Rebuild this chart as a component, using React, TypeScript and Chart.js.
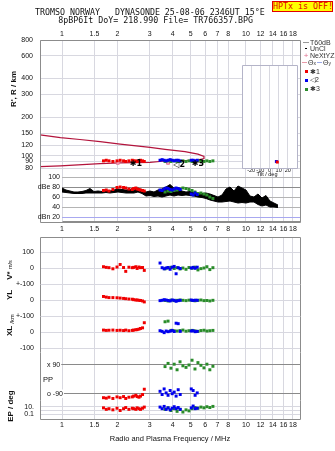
import React, { useEffect, useRef } from 'react';
import { Chart, registerables } from 'chart.js';
Chart.register(...registerables);

// ---------------- data ----------------
const freqTicks = [1, 1.5, 2, 3, 4, 5, 6, 7, 8, 10, 12, 14, 16, 18];
const rangeTicks = [80, 90, 100, 120, 150, 200, 300, 400, 600, 800];
const tiltTicks = [-20, -10, 0, 10, 20];
const dbTicks = [100, 80, 60, 40, 20];
const vTicks = [100, 0];
const ylTicks = [100, 0];
const xlTicks = [100, 0, -100];
const ppTicks = [90, -90];
const epTicks = [10, 1, 0.1];

const mode1Freq = [1.68, 1.74, 1.8, 1.89, 1.99, 2.07, 2.16, 2.22, 2.31, 2.41, 2.45, 2.52, 2.56, 2.62, 2.67, 2.74, 2.8];
const mode1Range = [91, 92, 91, 90, 91, 92, 91, 90, 91, 92, 91, 91, 90, 91, 92, 91, 90];
const mode1Db = [73, 74, 72, 75, 79, 80, 79, 78, 76, 75, 77, 78, 76, 75, 74, 73, 72];
const mode1Vstar = [8, 4, 2, -5, 6, 22, 3, -21, 5, 2, 4, 8, -3, 6, 2, 3, -15];
const mode1YL = [22, 18, 15, 15, 14, 12, 10, 8, 6, 5, 2, 0, 0, -2, -3, -6, -12];
const mode1XL = [12, 10, 11, 12, 10, 11, 9, 12, 8, 10, 12, 14, 15, 18, 22, 26, 58];
const mode1PP = [-115, -118, -112, -120, -110, -115, -108, -120, -112, -110, -105, -100, -108, -112, -105, -95, -62];
const mode1EP = [5, 2, 3, 1.5, 4, 1, 3, 6, 2, 4, 3, 2, 5, 3, 2, 4, 8];

const mode2Freq = [3.41, 3.5, 3.59, 3.68, 3.77, 3.87, 3.97, 4.07, 4.17, 4.28, 4.39, 5.04, 5.16, 5.29, 5.43];
const mode2Range = [92, 93, 92, 91, 92, 93, 92, 91, 92, 92, 91, 92, 92, 91, 92];
const mode2Db = [74, 73, 76, 78, 77, 75, 74, 76, 78, 77, 75, 66, 64, 68, 65];
const mode2Vstar = [31, 2, -5, 0, 3, -8, 5, 10, -36, 2, -3, 0, 4, -2, 5];
const mode2YL = [-4, -2, 2, 0, -3, -6, 0, -2, -8, -4, -2, 0, -3, -1, -2];
const mode2XL = [8, 4, -4, 6, 2, 5, 10, 3, 55, 52, 4, 6, 8, 2, 4];
const mode2PP = [-75, -95, -60, -85, -100, -70, -90, -80, -105, -65, -95, -60, -70, -100, -85];
const mode2EP = [8, 3, 12, 2, 5, 1.5, 4, 10, 3, 6, 2, 5, 15, 3, 4];

const mode3Freq = [3.63, 3.77, 3.91, 4.07, 4.22, 4.38, 4.54, 4.72, 4.9, 5.09, 5.28, 5.48, 5.69, 5.91, 6.13, 6.36, 6.61];
const mode3Range = [90, 91, 90, 91, 90, 90, 91, 90, 91, 90, 90, 91, 90, 90, 91, 90, 91];
const mode3Db = [70, 72, 71, 73, 74, 76, 78, 77, 75, 73, 70, 67, 68, 66, 64, 60, 57];
const mode3Vstar = [-5, 0, 4, -3, 2, -6, 0, -8, 3, -2, 5, -12, -4, 0, 8, -10, 2];
const mode3YL = [-3, -6, -1, -4, -2, 0, -2, -4, -1, -3, -5, -2, 0, -4, -3, -6, -2];
const mode3XL = [64, 68, 10, 8, 6, 9, 12, 5, 8, 10, 7, 4, 9, 11, 6, 8, 10];
const mode3PP = [80, 100, 70, 95, 60, 110, 85, 75, 90, 120, 65, 105, 88, 72, 95, 60, 82];
const mode3EP = [2, 5, 1, 3, 0.6, 2, 0.4, 1.5, 0.8, 3, 6, 4, 8, 5, 10, 6, 12];

const modelLowerFreq = [0.76, 0.98, 1.61, 2.07, 3.01, 3.63, 4.66, 5.48, 5.91];
const modelLowerRange = [81.9, 83.2, 86.7, 87.9, 88.6, 90.8, 91.6, 92.3, 95];
const modelUpperFreq = [0.76, 0.98, 1.25, 1.61, 2.07, 3.01, 3.63, 4.66, 5.48, 5.91];
const modelUpperRange = [145, 138, 133.6, 128.8, 123, 116, 112, 107.5, 102.6, 98.6];

const nextyzFreq = [2.01, 3.77, 5.6];
const nextyzRange = [88, 88, 91];

const tilt1 = [8.5];
const tilt1Range = [89];
const tilt2 = [7.5];
const tilt2Range = [90];

const dbFreq = [1.0, 1.051, 1.105, 1.162, 1.221, 1.284, 1.35, 1.419, 1.492, 1.569, 1.65, 1.734, 1.823, 1.917, 2.015, 2.119, 2.228, 2.342, 2.462, 2.588, 2.721, 2.861, 3.008, 3.162, 3.325, 3.495, 3.675, 3.864, 4.062, 4.271, 4.49, 4.72, 4.963, 5.218, 5.485, 5.767, 6.063, 6.374, 6.702, 7.045, 7.407, 7.787, 8.187, 8.607, 9.049, 9.513, 10.0, 10.51, 11.05, 11.62, 12.22, 12.84, 13.5, 14.19, 14.92];
const dbHigh = [78, 74, 72, 70, 70, 71, 73, 77, 71, 72, 71, 73, 72, 74, 76, 75, 74, 75, 73, 78, 74, 70, 72, 70, 74, 76, 80, 85, 78, 76, 72, 70, 71, 69, 68, 67, 68, 66, 63, 60, 64, 76, 80, 72, 82, 78, 74, 62, 60, 66, 58, 63, 52, 48, 44];
const dbLow = [70, 69, 68, 67, 67, 67, 68, 68, 68, 68, 68, 69, 68, 69, 70, 69, 68, 68, 68, 70, 67, 62, 63, 61, 62, 60, 62, 64, 62, 64, 63, 64, 63, 62, 60, 59, 57, 54, 52, 50, 50, 51, 52, 50, 48, 49, 48, 50, 50, 45, 42, 44, 40, 40, 39];

const modeNotes = [
  { text: '✱1', f: 2.52, r: 86 },
  { text: '◁2', f: 4.33, r: 84.5 },
  { text: '✱3', f: 5.48, r: 86 },
];

// ---------------- helpers ----------------
const W = 335;
const H = 451;
const X_MIN = 0.759;
const X_MAX = 19.66;
const FONT = 'Liberation Sans';
const GRID = '#d8d8e0';
const FRAME = '#8c8c8c';
const RED = '#f00000';
const BLUE = '#0000ee';
const GREEN = '#2a8c2a';

const fix = (size: number) => (s: any) => {
  if (s.isHorizontal()) s.height = size;
  else s.width = size;
  s.paddingLeft = 0;
  s.paddingRight = 0;
  s.paddingTop = 0;
  s.paddingBottom = 0;
};
const setTicks = (vals: number[]) => (s: any) => {
  s.ticks = vals.map((value) => ({ value }));
};
const pts = (xs: number[], ys: number[]) => xs.map((x, i) => ({ x, y: ys[i] }));

function modeDs(xs: number[], ys: number[], color: string, r = 2.1) {
  return {
    data: pts(xs, ys),
    showLine: false,
    pointStyle: 'rect',
    pointRadius: r,
    pointBorderWidth: 0,
    pointBackgroundColor: color,
    pointBorderColor: color,
    backgroundColor: color,
    borderColor: color,
  };
}

function area(l: number, t: number, r: number, b: number, yW: number, xH: number, xPos: string) {
  return {
    left: l - yW,
    top: t - (xPos === 'top' ? xH : 0),
    right: W - r,
    bottom: H - b - (xPos === 'bottom' ? xH : 0),
  };
}

function freqAxis(o: { min?: number; labels?: boolean; position?: string; size?: number; grid?: boolean; pad?: number }) {
  return {
    type: 'logarithmic',
    position: o.position || 'bottom',
    min: o.min ?? X_MIN,
    max: X_MAX,
    afterBuildTicks: setTicks(freqTicks),
    afterFit: fix(o.size ?? 0),
    grid: { display: o.grid ?? true, color: GRID, drawTicks: false },
    border: { display: false },
    ticks: {
      display: !!o.labels,
      autoSkip: false,
      maxRotation: 0,
      minRotation: 0,
      padding: o.pad ?? 2,
      color: '#111',
      font: { family: FONT, size: 7 },
      callback: (v: any) => String(v),
    },
  };
}

function valueAxis(o: {
  type?: string; min: number; max: number; ticks: number[]; label?: (v: number) => string;
  width?: number; pad?: number; gridColor?: any; mirror?: boolean;
}) {
  return {
    type: o.type || 'linear',
    position: 'left',
    min: o.min,
    max: o.max,
    afterBuildTicks: setTicks(o.ticks),
    afterFit: fix(o.width ?? 40),
    grid: { color: o.gridColor || GRID, drawTicks: false },
    border: { display: false },
    ticks: {
      autoSkip: false,
      padding: o.pad ?? 6,
      color: '#111',
      mirror: !!o.mirror,
      showLabelBackdrop: !!o.mirror,
      backdropColor: '#ffffff',
      backdropPadding: { left: 6, right: 1, top: 0, bottom: 0 },
      font: { family: FONT, size: 7 },
      callback: (v: any) => (o.label ? o.label(Number(v)) : String(v)),
    },
  };
}

const framePlugin = {
  id: 'frame',
  beforeDraw(chart: any, _a: any, opts: any) {
    if (!opts || !opts.fill) return;
    const { ctx, chartArea: a } = chart;
    ctx.save();
    ctx.fillStyle = opts.fill;
    ctx.fillRect(a.left, a.top, a.right - a.left, a.bottom - a.top);
    ctx.restore();
  },
  afterDraw(chart: any, _a: any, opts: any) {
    if (!opts || !opts.sides) return;
    const { ctx, chartArea: a } = chart;
    const l = Math.round(a.left) + 0.5;
    const r = Math.round(a.right) + 0.5;
    const t = Math.round(a.top) + 0.5;
    const b = Math.round(a.bottom) + 0.5;
    ctx.save();
    ctx.strokeStyle = opts.color || FRAME;
    ctx.lineWidth = 1;
    ctx.beginPath();
    if (opts.sides.includes('t')) { ctx.moveTo(l, t); ctx.lineTo(r, t); }
    if (opts.sides.includes('b')) { ctx.moveTo(l, b); ctx.lineTo(r, b); }
    if (opts.sides.includes('l')) { ctx.moveTo(l, t); ctx.lineTo(l, b); }
    if (opts.sides.includes('r')) { ctx.moveTo(r, t); ctx.lineTo(r, b); }
    ctx.stroke();
    ctx.restore();
  },
};

const notesPlugin = {
  id: 'notes',
  afterDatasetsDraw(chart: any, _a: any, opts: any) {
    if (!opts || !opts.items) return;
    const { ctx, scales } = chart;
    ctx.save();
    ctx.fillStyle = '#000';
    ctx.font = 'bold 8px "DejaVu Sans"';
    ctx.textAlign = 'center';
    ctx.textBaseline = 'middle';
    for (const n of opts.items) {
      ctx.fillText(n.text, scales.x.getPixelForValue(n.f), scales.y.getPixelForValue(n.r));
    }
    ctx.restore();
  },
};

function makeConfig(datasets: any[], padding: any, scales: any, plugins: any = {}) {
  return {
    type: 'scatter',
    data: { datasets },
    options: {
      responsive: false,
      maintainAspectRatio: false,
      animation: false,
      devicePixelRatio: 1,
      events: [],
      layout: { padding },
      plugins: { legend: { display: false }, tooltip: { enabled: false }, ...plugins },
      scales,
    },
    plugins: [framePlugin, notesPlugin],
  };
}

// ---------------- chart configs ----------------
const modelPath = [...pts(modelLowerFreq, modelLowerRange), ...pts(modelUpperFreq, modelUpperRange).reverse()];

const rangeChart = () =>
  makeConfig(
    [
      modeDs(mode1Freq, mode1Range, RED),
      modeDs(mode2Freq, mode2Range, BLUE),
      modeDs(mode3Freq, mode3Range, GREEN),
      { data: pts(nextyzFreq, nextyzRange), showLine: false, pointStyle: 'rect', pointRadius: 2.1, pointBorderWidth: 1, pointBorderColor: '#e07090', pointBackgroundColor: '#f4b0c8' },
      { data: modelPath, showLine: true, borderColor: '#b3143c', borderWidth: 1.2, pointRadius: 0, tension: 0 },
    ],
    area(40, 40, 300, 222, 40, 12, 'top'),
    {
      x: freqAxis({ labels: true, position: 'top', size: 12, pad: 2 }),
      y: valueAxis({ type: 'logarithmic', min: 30.3, max: 800, ticks: rangeTicks, pad: 7 }),
    },
    { frame: { sides: 'tlbr', color: FRAME }, notes: { items: modeNotes } }
  );

const tiltChart = () =>
  makeConfig(
    [modeDs(tilt1, tilt1Range, RED), modeDs(tilt2, tilt2Range, BLUE)],
    area(242, 65, 297, 168, 0, 6, 'bottom'),
    {
      x: {
        type: 'linear', min: -30, max: 30,
        afterBuildTicks: setTicks(tiltTicks),
        afterFit: fix(6),
        grid: { color: GRID, drawTicks: false },
        border: { display: false },
        ticks: { autoSkip: false, maxRotation: 0, padding: -1, color: '#111', font: { family: FONT, size: 5.5 } },
      },
      y: { type: 'logarithmic', display: false, min: 80, max: 510.5 },
    },
    { frame: { sides: 'tlbr', color: '#b4b4c8', fill: '#ffffff' } }
  );

const dbChart = () =>
  makeConfig(
    [
      modeDs(mode1Freq, mode1Db, RED),
      modeDs(mode2Freq, mode2Db, BLUE),
      modeDs(mode3Freq, mode3Db, GREEN),
      { data: pts(dbFreq, dbHigh), showLine: true, borderColor: '#000', borderWidth: 1, pointRadius: 0, fill: '+1', backgroundColor: '#000' },
      { data: pts(dbFreq, dbLow), showLine: true, borderColor: '#000', borderWidth: 1, pointRadius: 0 },
    ],
    area(62, 177, 300, 221, 62, 12, 'bottom'),
    {
      x: freqAxis({ min: 1.0, labels: true, size: 12, grid: false, pad: 4 }),
      y: valueAxis({
        min: 12, max: 100, ticks: dbTicks, width: 62, pad: 2,
        label: (v) => (v === 80 ? 'dBe 80' : v === 20 ? 'dBn 20' : String(v)),
        gridColor: (c: any) => (c.tick && c.tick.value === 20 ? '#a8a8f0' : c.tick && c.tick.value === 80 ? '#8c8c8c' : '#b4b4b4'),
      }),
    },
    { frame: { sides: 'b', color: FRAME } }
  );

const lowerChart = (
  d1: number[], d2: number[], d3: number[], top: number, bottom: number, yAxis: any, sides: string, xLabels = false
) =>
  makeConfig(
    [modeDs(mode1Freq, d1, RED), modeDs(mode2Freq, d2, BLUE), modeDs(mode3Freq, d3, GREEN)],
    area(40, top, 300, bottom, 40, xLabels ? 12 : 0, 'bottom'),
    { x: freqAxis({ labels: xLabels, size: xLabels ? 12 : 0, pad: 2 }), y: yAxis },
    { frame: { sides, color: FRAME } }
  );

const vChart = () => lowerChart(mode1Vstar, mode2Vstar, mode3Vstar, 237, 284, valueAxis({ min: -100, max: 193.75, ticks: vTicks }), 'tlr');
const ylChart = () => lowerChart(mode1YL, mode2YL, mode3YL, 284, 316, valueAxis({ min: -100, max: 100, ticks: ylTicks, label: (v) => (v === 100 ? '+-100' : String(v)) }), 'lr');
const xlChart = () => lowerChart(mode1XL, mode2XL, mode3XL, 316, 352, valueAxis({ min: -125, max: 100, ticks: xlTicks, label: (v) => (v === 100 ? '+-100' : String(v)) }), 'lr');
const ppChart = () =>
  lowerChart(mode1PP, mode2PP, mode3PP, 352, 400, valueAxis({
    min: -129.5, max: 171.5, ticks: ppTicks, mirror: true, pad: 7, gridColor: '#8a8a8a',
    label: (v) => (v === 90 ? 'x 90' : 'o -90'),
  }), 'lr');
const epChart = () =>
  lowerChart(mode1EP, mode2EP, mode3EP, 400, 419, valueAxis({
    type: 'logarithmic', min: 0.0058, max: 580, ticks: epTicks,
    label: (v) => (v === 10 ? '10.' : v === 0.1 ? '0.1' : ''),
  }), 'lrb', true);

// ---------------- components ----------------
function ChartLayer({ make }: { make: () => any }) {
  const ref = useRef<HTMLCanvasElement>(null);
  useEffect(() => {
    const chart = new Chart(ref.current as HTMLCanvasElement, make() as any);
    return () => chart.destroy();
  }, []);
  return (
    <canvas
      ref={ref}
      width={W}
      height={H}
      style={{ position: 'absolute', left: 0, top: 0, width: W, height: H, pointerEvents: 'none' }}
    />
  );
}

function VLabel({ x, y, children, size = 8, bold = true }: any) {
  return (
    <div
      style={{
        position: 'absolute', left: x, top: y, transform: 'translate(-50%,-50%) rotate(-90deg)',
        whiteSpace: 'nowrap', font: `${bold ? 'bold ' : ''}${size}px "${FONT}"`, lineHeight: 1, color: '#111',
      }}
    >
      {children}
    </div>
  );
}

function Txt({ x, y, children, size = 7, align = 'left', bold = false, color = '#111', family = FONT }: any) {
  const tx = align === 'center' ? '-50%' : align === 'right' ? '-100%' : '0';
  return (
    <div
      style={{
        position: 'absolute', left: x, top: y, transform: `translate(${tx},-50%)`, whiteSpace: 'pre',
        font: `${bold ? 'bold ' : ''}${size}px "${family}"`, lineHeight: 1, color,
      }}
    >
      {children}
    </div>
  );
}

function LegendRow({ y, sym, label }: any) {
  return (
    <div style={{ position: 'absolute', left: 302, top: y - 4, height: 8, display: 'flex', alignItems: 'center', font: `7px "${FONT}"`, color: '#333', whiteSpace: 'nowrap' }}>
      <div style={{ width: 8, display: 'flex', justifyContent: 'center', alignItems: 'center' }}>{sym}</div>
      <span>{label}</span>
    </div>
  );
}

const sq = (c: string) => <div style={{ width: 3, height: 3, background: c }} />;
const ln = (c: string, w = 6) => <div style={{ width: w, height: 1, background: c }} />;

export default function App() {
  return (
    <div style={{ position: 'absolute', left: 0, top: 0, width: W, height: H, background: '#fff', overflow: 'hidden' }}>
      <ChartLayer make={rangeChart} />
      <ChartLayer make={tiltChart} />
      <ChartLayer make={dbChart} />
      <ChartLayer make={vChart} />
      <ChartLayer make={ylChart} />
      <ChartLayer make={xlChart} />
      <ChartLayer make={ppChart} />
      <ChartLayer make={epChart} />

      <Txt x={35} y={12.3} size={8.3} family="DejaVu Sans Mono">{'TROMSO NORWAY   DYNASONDE 25-08-06 2346UT 15°E'}</Txt>
      <Txt x={58.3} y={20.3} size={8.3} family="DejaVu Sans Mono">{'8pBP6It DoY= 218.990 File= TR766357.BPG'}</Txt>
      <div
        style={{
          position: 'absolute', left: 272, top: 1, width: 59, height: 9, background: '#ffff00', border: '1px solid #e00000',
          color: '#e00000', font: '8.3px "DejaVu Sans Mono"', lineHeight: '9px', textAlign: 'center', whiteSpace: 'pre',
        }}
      >
        HPTx is OFF!
      </div>

      <VLabel x={14} y={89}>R', R / km</VLabel>
      <VLabel x={10} y={270}>
        V* <span style={{ fontSize: 5.5, fontWeight: 'normal' }}>m/s</span>
      </VLabel>
      <VLabel x={10} y={295}>YL</VLabel>
      <VLabel x={12} y={319} size={6} bold={false}>/km</VLabel>
      <VLabel x={10} y={331}>XL</VLabel>
      <VLabel x={11} y={406}>EP / deg</VLabel>
      <Txt x={43} y={380} size={7.5}>PP</Txt>
      <Txt x={267} y={175} size={5.5} align="center">Tilt / deg</Txt>
      <Txt x={170} y={439} size={7.5} align="center">Radio and Plasma Frequency / MHz</Txt>

      <LegendRow y={42} sym={ln('#999')} label="T60dB" />
      <LegendRow y={48.5} sym={<div style={{ width: 1.5, height: 1.5, background: '#000' }} />} label="UnCl" />
      <LegendRow y={55.5} sym={<span style={{ color: '#e07090', fontSize: 8 }}>+</span>} label="NeXtYZ" />
      <div style={{ position: 'absolute', left: 302, top: 58.5, height: 8, display: 'flex', alignItems: 'center', font: `7px "${FONT}"`, color: '#333', whiteSpace: 'nowrap' }}>
        {ln('#e89aa8', 5)}
        <span style={{ margin: '0 1px' }}>Θ<span style={{ fontSize: 5 }}>x</span></span>
        {ln('#9aa8e8', 5)}
        <span style={{ marginLeft: 1 }}>Θ<span style={{ fontSize: 5 }}>y</span></span>
      </div>
      <LegendRow y={71.7} sym={sq(RED)} label="✱1" />
      <LegendRow y={80.3} sym={sq(BLUE)} label="◁2" />
      <LegendRow y={89} sym={sq(GREEN)} label="✱3" />
    </div>
  );
}
